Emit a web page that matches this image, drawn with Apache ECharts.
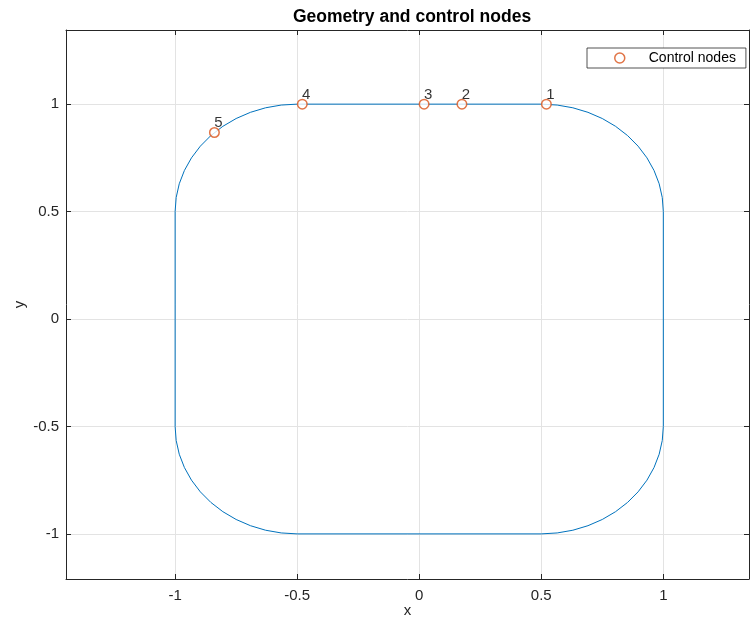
<!DOCTYPE html>
<html>
<head>
<meta charset="utf-8">
<script src="https://cdn.jsdelivr.net/npm/echarts@6/dist/echarts.min.js"></script>
<style>html,body{margin:0;padding:0;background:#fff}#c{width:751px;height:617px}</style>
</head>
<body>
<div id="c"></div>
<script>
// Geometry curve (rounded square with quarter-circle corners)
const curveX = [
  1, 0.9957, 0.9830, 0.9619, 0.9330, 0.8967, 0.8536, 0.8044, 0.75, 0.6913, 0.6294, 0.5653, 0.5,
  -0.5, -0.5653, -0.6294, -0.6913, -0.75, -0.8044, -0.8536, -0.8967, -0.9330, -0.9619, -0.9830, -0.9957, -1,
  -1, -0.9957, -0.9830, -0.9619, -0.9330, -0.8967, -0.8536, -0.8044, -0.75, -0.6913, -0.6294, -0.5653, -0.5,
  0.5, 0.5653, 0.6294, 0.6913, 0.75, 0.8044, 0.8536, 0.8967, 0.9330, 0.9619, 0.9830, 0.9957, 1,
  1];
const curveY = [
  0.5, 0.5653, 0.6294, 0.6913, 0.75, 0.8044, 0.8536, 0.8967, 0.9330, 0.9619, 0.9830, 0.9957, 1,
  1, 0.9957, 0.9830, 0.9619, 0.9330, 0.8967, 0.8536, 0.8044, 0.75, 0.6913, 0.6294, 0.5653, 0.5,
  -0.5, -0.5653, -0.6294, -0.6913, -0.75, -0.8044, -0.8536, -0.8967, -0.9330, -0.9619, -0.9830, -0.9957, -1,
  -1, -0.9957, -0.9830, -0.9619, -0.9330, -0.8967, -0.8536, -0.8044, -0.75, -0.6913, -0.6294, -0.5653, -0.5,
  0.5];
// Control nodes
const nodeX = [0.521, 0.175, 0.02, -0.479, -0.839];
const nodeY = [1, 1, 1, 1, 0.868];
const nodeLabels = ['1', '2', '3', '4', '5'];
// Axis ranges
const xRange = [-1.447, 1.351];
const yRange = [-1.21, 1.345];

const FONT = 'Liberation Sans, Arial, Helvetica, sans-serif';
const AX = '#262626';
const chart = echarts.init(document.getElementById('c'), null, {renderer: 'canvas'});

const curveData = curveX.map((x, i) => [x, curveY[i]]);
const nodeData = nodeX.map((x, i) => ({value: [x, nodeY[i]], name: nodeLabels[i]}));

const baseAxis = {
  type: 'value',
  splitNumber: 5,
  axisLine: {show: true, onZero: false, lineStyle: {color: AX, width: 1}},
  axisTick: {show: true, inside: true, length: 5, lineStyle: {color: AX}},
  axisLabel: {color: AX, fontSize: 15, fontFamily: FONT, showMinLabel: false, showMaxLabel: false},
  splitLine: {show: true, lineStyle: {color: '#e3e3e3', width: 1}}
};

chart.setOption({
  animation: false,
  backgroundColor: '#fff',
  textStyle: {fontFamily: FONT},
  grid: {left: 66, right: 2, top: 30, bottom: 38, containLabel: false, outerBoundsMode: 'none'},
  graphic: [{
    type: 'text', x: 412, y: 8.5,
    style: {text: 'Geometry and control nodes', font: 'bold 17.5px ' + FONT, fill: '#000',
      align: 'center', verticalAlign: 'top'}
  }],
  legend: {
    left: 587, top: 48,
    padding: [3, 10, 3, 27],
    itemWidth: 10, itemHeight: 10, itemGap: 5,
    borderColor: AX, borderWidth: 0.8, backgroundColor: '#fff',
    textStyle: {fontSize: 14, color: '#000', fontFamily: FONT, padding: [0, 0, 0, 19]},
    data: [{name: 'Control nodes', icon: 'circle',
      itemStyle: {color: '#fff', borderColor: '#D95319', borderWidth: 1.5}}]
  },
  xAxis: [
    Object.assign({}, baseAxis, {
      min: xRange[0], max: xRange[1], position: 'bottom',
      name: 'x', nameLocation: 'middle', nameGap: 24, nameMoveOverlap: false,
      nameTextStyle: {fontSize: 15, color: AX, fontFamily: FONT},
      axisLabel: Object.assign({}, baseAxis.axisLabel, {margin: 9})
    }),
    Object.assign({}, baseAxis, {
      min: xRange[0], max: xRange[1], position: 'top',
      axisLabel: {show: false}, splitLine: {show: false}
    })
  ],
  yAxis: [
    Object.assign({}, baseAxis, {
      min: yRange[0], max: yRange[1], position: 'left',
      name: 'y', nameLocation: 'middle', nameGap: 39, nameRotate: 90, nameMoveOverlap: false,
      nameTextStyle: {fontSize: 15, color: AX, fontFamily: FONT},
      axisLabel: Object.assign({}, baseAxis.axisLabel, {margin: 7})
    }),
    Object.assign({}, baseAxis, {
      min: yRange[0], max: yRange[1], position: 'right',
      axisLabel: {show: false}, splitLine: {show: false}
    })
  ],
  series: [
    {
      name: 'Geometry', type: 'line', data: curveData,
      showSymbol: false, symbol: 'none', smooth: false,
      lineStyle: {color: '#0072BD', width: 1}, z: 2
    },
    {
      name: 'Control nodes', type: 'scatter', data: nodeData,
      symbol: 'circle', symbolSize: 9.5,
      itemStyle: {color: '#fff', borderColor: '#D95319', borderWidth: 1.5},
      label: {
        show: true, formatter: p => p.name, position: 'inside', offset: [4, -9.5],
        color: '#000', fontSize: 15, fontFamily: FONT
      },
      z: 3
    }
  ]
});
</script>
</body>
</html>
